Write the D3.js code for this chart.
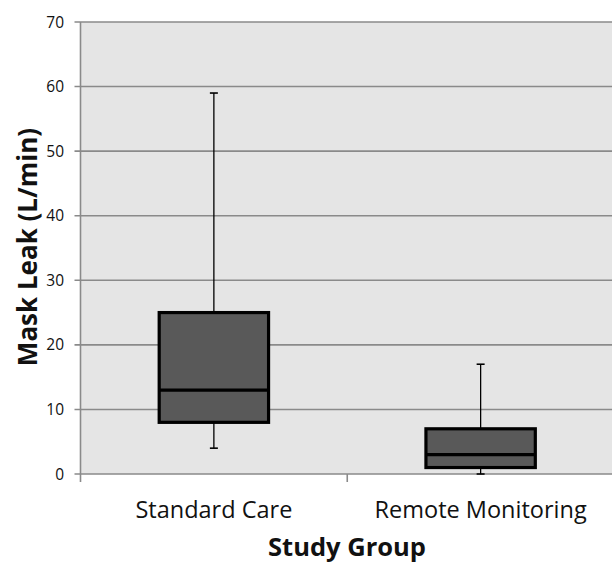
<!DOCTYPE html>
<html><head><meta charset="utf-8">
<script src="https://cdn.jsdelivr.net/npm/d3@7"></script>
<style>body{margin:0;background:#fff}svg{display:block}text{font-family:"Open Sans",Lato,sans-serif}</style>
</head><body>
<svg id="c" width="612" height="564"></svg>
<script>
const categories = ["Standard Care", "Remote Monitoring"];
const whiskerLow = [4, 0];
const q1 = [8, 1];
const median = [13, 3];
const q3 = [25, 7];
const whiskerHigh = [59, 17];
const yTicks = [0, 10, 20, 30, 40, 50, 60, 70];

(function () {
const svg = d3.select("#c");
const mLeft = 80.5, mRight = 614, mTop = 22, mBottom = 474;
const x = d3.scaleBand().domain(categories).range([mLeft, mRight]).paddingInner(0).paddingOuter(0);
const y = d3.scaleLinear().domain([0, 70]).range([mBottom, mTop]);

svg.append("rect").attr("x", mLeft).attr("y", mTop).attr("width", mRight - mLeft).attr("height", mBottom - mTop).attr("fill", "#e5e5e5");

svg.append("g").selectAll("line").data(yTicks).join("line")
  .attr("x1", mLeft - 6).attr("x2", mRight)
  .attr("y1", d => y(d)).attr("y2", d => y(d))
  .attr("stroke", "#8a8a8a").attr("stroke-width", 1.6);
svg.append("g").selectAll("text").data(yTicks).join("text")
  .attr("x", 64).attr("y", d => y(d)).attr("dy", "0.36em")
  .attr("text-anchor", "end").attr("font-size", 15.5).attr("fill", "#111").text(d => d);

svg.append("line").attr("x1", mLeft).attr("x2", mLeft).attr("y1", mTop).attr("y2", mBottom + 8).attr("stroke", "#8a8a8a").attr("stroke-width", 1.6);
svg.append("g").selectAll("line").data([x(categories[1])]).join("line")
  .attr("x1", d => d).attr("x2", d => d).attr("y1", mBottom).attr("y2", mBottom + 8)
  .attr("stroke", "#8a8a8a").attr("stroke-width", 1.6);

const bw = x.bandwidth() * 0.41;
const g = svg.append("g");
categories.forEach((c, i) => {
  const cx = x(c) + x.bandwidth() / 2;
  g.append("line").attr("x1", cx).attr("x2", cx).attr("y1", y(whiskerHigh[i])).attr("y2", y(whiskerLow[i])).attr("stroke", "#000").attr("stroke-width", 1.3);
  [whiskerHigh[i], whiskerLow[i]].forEach(v => {
    g.append("line").attr("x1", cx - 4).attr("x2", cx + 4).attr("y1", y(v)).attr("y2", y(v)).attr("stroke", "#000").attr("stroke-width", 1.6);
  });
  g.append("rect").attr("x", cx - bw / 2).attr("y", y(q3[i])).attr("width", bw).attr("height", y(q1[i]) - y(q3[i]))
    .attr("fill", "#595959").attr("stroke", "#000").attr("stroke-width", 3.2);
  g.append("line").attr("x1", cx - bw / 2).attr("x2", cx + bw / 2).attr("y1", y(median[i])).attr("y2", y(median[i])).attr("stroke", "#000").attr("stroke-width", 3.2);
  svg.append("text").attr("x", cx).attr("y", 518).attr("text-anchor", "middle").attr("font-size", 23.5).attr("fill", "#111").text(c);
});

svg.append("text").attr("x", 347).attr("y", 556).attr("text-anchor", "middle").attr("font-size", 25.5).attr("font-weight", "bold").attr("fill", "#111").text("Study Group");
svg.append("text").attr("transform", "translate(37,247) rotate(-90)").attr("text-anchor", "middle").attr("font-size", 26).attr("font-weight", "bold").attr("fill", "#111").text("Mask Leak (L/min)");
})();
</script>
</body></html>
